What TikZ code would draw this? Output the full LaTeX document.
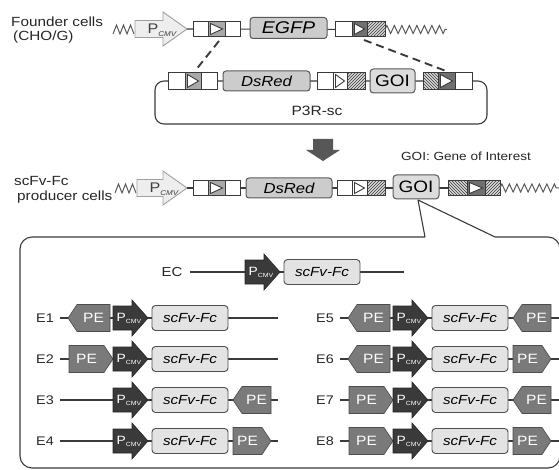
\documentclass[tikz,border=0pt]{standalone}
\usepackage{fontspec}
\setmainfont[FakeStretch=1.15]{Liberation Sans}
\usetikzlibrary{patterns,decorations.pathmorphing}
\definecolor{ln}{HTML}{3A3A3A}
\definecolor{lightfill}{HTML}{EEEEEE}
\definecolor{genefill}{HTML}{CCCCCC}
\definecolor{goifill}{HTML}{DCDCDC}
\definecolor{scfill}{HTML}{E3E3E3}
\definecolor{pefill}{HTML}{7A7A7A}
\definecolor{pdfill}{HTML}{3A3A3A}
\definecolor{cellgray}{HTML}{A9A9A9}
\definecolor{celldark}{HTML}{707070}
\definecolor{bigarrow}{HTML}{575757}
\newcommand\hh{7.5}
\newcommand\cellplain[3]{\draw[cellbox,fill=white] (#1,#3-\hh) rectangle (#2,#3+\hh);}
\newcommand\celltri[4]{\draw[cellbox,fill=#4] (#1,#3-\hh) rectangle (#2,#3+\hh);
  \draw[cellbox,fill=white] (#1+2.5,#3-\hh+2) -- (#2-2.5,#3) -- (#1+2.5,#3+\hh-2) -- cycle;}
\newcommand\cellhatch[4]{\fill[gray!30] (#1,#3-\hh) rectangle (#2,#3+\hh);
  \fill[pattern=#4,pattern color=ln] (#1,#3-\hh) rectangle (#2,#3+\hh);
  \draw[cellbox] (#1,#3-\hh) rectangle (#2,#3+\hh);}
\newcommand\plight[5]{% name, x0, xhead, xtip, y
  \draw[plshape] (#2,#5-8.5) -- (#3,#5-8.5) -- (#3,#5-17) -- (#4,#5) -- (#3,#5+17) -- (#3,#5+8.5) -- (#2,#5+8.5) -- cycle;
  \coordinate (#1-e) at (#4,#5);
  \node[pltext] (#1) at (#2+27,#5+1) {P\raisebox{-2.5pt}{\fontsize{7}{7}\selectfont\itshape CMV}};}
\newcommand\pdark[3]{% name, x0, y
  \draw[pdshape] (#2,#3-12) -- (#2+19,#3-12) -- (#2+19,#3-18) -- (#2+35,#3) -- (#2+19,#3+18) -- (#2+19,#3+12) -- (#2,#3+12) -- cycle;
  \node[pdtext] (#1) at (#2+16,#3+0.5) {P\raisebox{-1.5pt}{\fontsize{6}{7}\selectfont CMV}};}
\newcommand\peL[4]{\draw[peshape] (#2,#4) -- (#2+9,#4-13.5) -- (#3,#4-13.5) -- (#3,#4+13.5) -- (#2+9,#4+13.5) -- cycle;
  \node[petext] (#1) at ({(#2+9+#3)/2},#4) {PE};}
\newcommand\peR[4]{\draw[peshape] (#2,#4-13.5) -- (#3-9,#4-13.5) -- (#3,#4) -- (#3-9,#4+13.5) -- (#2,#4+13.5) -- cycle;
  \node[petext] (#1) at ({(#2+#3-9)/2},#4) {PE};}
\newcommand\scfv[3]{\node[scbox] (#1) at (#2,#3) {scFv-Fc};}
\begin{document}
\begin{tikzpicture}[x=1pt,y=-1pt,
  font=\fontsize{12}{14}\selectfont,
  conn/.style={draw=ln,line width=1.1pt},
  cellbox/.style={draw=ln,line width=0.9pt},
  squig/.style={draw=gray!70!black,line width=1pt},
  plshape/.style={draw=gray!75,fill=lightfill,line width=0.9pt},
  pltext/.style={text=black!75,inner sep=0pt,font=\fontsize{14}{14}\selectfont},
  pdshape/.style={draw=black!85,fill=pdfill,line width=0.6pt},
  pdtext/.style={text=white,inner sep=0pt},
  peshape/.style={draw=gray!60!black,fill=pefill,line width=0.6pt},
  petext/.style={text=white,inner sep=0pt,font=\fontsize{13.5}{14}\selectfont},
  genebox/.style={draw=ln!85,line width=1pt,rounded corners=3pt,fill=genefill,inner sep=0pt,font=\fontsize{15}{16}\selectfont\itshape},
  goibox/.style={draw=ln!85,line width=1pt,rounded corners=3.5pt,fill=goifill,inner sep=0pt,minimum width=46,minimum height=24,font=\fontsize{16.5}{17}\selectfont},
  scbox/.style={draw=ln!90,line width=0.9pt,rounded corners=3.5pt,fill=scfill,inner sep=0pt,minimum width=76,minimum height=25,font=\fontsize{13.2}{14}\selectfont\itshape},
  elabel/.style={inner sep=0pt,text=black!85,font=\fontsize{12.5}{14}\selectfont},
  dashline/.style={draw=ln,line width=1.9pt,dash pattern=on 8pt off 5pt},
  celllabel/.style={anchor=west,align=left,inner sep=0pt,text=black!85,font=\fontsize{13.3}{14.5}\selectfont},
]
\useasboundingbox (0,0) rectangle (559,470);
\clip (0,0) rectangle (559,470);

% ---------- labels ----------
\node[celllabel] (founder) at (11,30) {Founder cells\\\hspace{2pt}(CHO/G)};
\node[celllabel] (producer) at (14,190) {scFv-Fc\\\hspace{3pt}producer cells};
\node[inner sep=0pt,text=black!85,font=\fontsize{11.8}{14}\selectfont] (goilabel) at (466,156) {GOI: Gene of Interest};

% ---------- row 1 : founder ----------
\coordinate (sq1a) at (385,29.5);
\coordinate (sq1b) at (447,29.5);
\draw[squig] (113,34) -- (116.5,25) -- (120,34) -- (123.5,25) -- (127,34) -- (130.5,25) -- (134,34);
\plight{p1}{135}{163}{187}{29}
\draw[conn] (p1-e) -- (sq1a);
\cellplain{193}{208}{29}
\celltri{208}{225}{29}{cellgray}
\cellplain{225}{240}{29}
\node[genebox,minimum width=77,minimum height=21,font=\fontsize{17}{17}\selectfont\itshape] (egfp) at (288.5,28) {EGFP};
\cellplain{335}{352}{29}
\celltri{352}{367}{29}{celldark}
\cellhatch{367}{385}{29}{north east lines}
\draw[squig,decorate,decoration={zigzag,segment length=7.5pt,amplitude=4pt}] (sq1a) -- (sq1b);

% ---------- row 2 : P3R-sc ----------
\renewcommand\hh{8.5}
\draw[conn,rounded corners=9pt] (155,81) rectangle (487,124);
\cellplain{168}{185}{81}
\celltri{185}{201}{81}{cellgray}
\cellplain{201}{217}{81}
\node[genebox,minimum width=87,minimum height=20,font=\fontsize{14.5}{15}\selectfont\itshape] (dsred1) at (266.5,81) {DsRed};
\cellplain{317}{333}{81}
\celltri{333}{347}{81}{white}
\cellhatch{347}{365}{81}{north east lines}
\node[goibox,minimum width=45] (goi1) at (392.5,81) {GOI};
\cellhatch{423}{438}{81}{north west lines}
\celltri{438}{455}{81}{celldark}
\cellplain{455}{472}{81}
\node[inner sep=0pt,text=black!85,font=\fontsize{13.5}{15}\selectfont] (p3r) at (317,111) {P3R-sc};

% dashed recombination lines
\coordinate (d1a) at (219,41);
\coordinate (d1b) at (195,71);
\coordinate (d2a) at (364,40);
\coordinate (d2b) at (446,71);
\draw[dashline] (d1a) -- (d1b);
\draw[dashline] (d2a) -- (d2b);

% big arrow
\fill[bigarrow] (313,139) -- (333,139) -- (333,150) -- (340,150) -- (323,161) -- (306,150) -- (313,150) -- cycle;

% ---------- row 3 : producer ----------
\renewcommand\hh{7.5}
\coordinate (sq3a) at (500,188);
\coordinate (sq3b) at (559,188);
\draw[squig] (115,193) -- (118.5,184) -- (122,193) -- (125.5,184) -- (129,193) -- (132.5,184) -- (136,193);
\plight{p3}{137}{163}{187}{188}
\draw[conn] (p3-e) -- (sq3a);
\cellplain{193}{208}{188}
\celltri{208}{225}{188}{cellgray}
\cellplain{225}{240}{188}
\node[genebox,minimum width=86,minimum height=20,font=\fontsize{14.5}{15}\selectfont\itshape] (dsred2) at (289,188) {DsRed};
\cellplain{337}{352}{188}
\celltri{352}{367}{188}{white}
\cellhatch{367}{385}{188}{north east lines}
\node[goibox] (goi2) at (416,187) {GOI};
\cellhatch{448}{467}{188}{north west lines}
\celltri{467}{485}{188}{celldark}
\cellhatch{485}{500}{188}{north east lines}
\draw[squig,decorate,decoration={zigzag,segment length=7.5pt,amplitude=4pt}] (sq3a) -- (sq3b);

% ---------- callout box ----------
\coordinate (co) at (418,200);
\coordinate (cl) at (425,237);
\coordinate (cr) at (495,237);
\draw[draw=ln,line width=1.1pt,line join=round] (cr) -- (co) -- (cl);
\draw[draw=ln,line width=1.1pt,rounded corners=12pt] (cl) -- (20,237) -- (20,468) -- (560,468) -- (560,237) -- (cr);

% ---------- EC ----------
\node[elabel,font=\fontsize{13}{14}\selectfont] (ec) at (172,272) {EC};
\coordinate (ecend) at (404,272);
\draw[conn] ([xshift=7]ec.east) -- (ecend);
\pdark{ecp}{245}{272}
\scfv{ecs}{322}{272}

% ---------- left column ----------
\node[elabel] (l1) at (45,318) {E1};
\coordinate (e1end) at (278,318);
\draw[conn] ([xshift=6]l1.east) -- (e1end);
\peL{e1a}{68}{110}{318}
\pdark{e1p}{113}{318}
\scfv{e1s}{190}{318}

\node[elabel] (l2) at (45,359) {E2};
\coordinate (e2end) at (278,359);
\draw[conn] ([xshift=6]l2.east) -- (e2end);
\peR{e2a}{69}{113}{359}
\pdark{e2p}{113}{359}
\scfv{e2s}{190}{359}

\node[elabel] (l3) at (45,400) {E3};
\coordinate (e3end) at (278,400);
\draw[conn] ([xshift=6]l3.east) -- (e3end);
\pdark{e3p}{113}{400}
\scfv{e3s}{190}{400}
\peL{e3b}{233}{271}{400}

\node[elabel] (l4) at (45,441) {E4};
\coordinate (e4end) at (278,441);
\draw[conn] ([xshift=6]l4.east) -- (e4end);
\pdark{e4p}{113}{441}
\scfv{e4s}{190}{441}
\peR{e4b}{233}{271}{441}

% ---------- right column ----------
\node[elabel] (l5) at (325,318) {E5};
\coordinate (e5end) at (562,318);
\draw[conn] ([xshift=6]l5.east) -- (e5end);
\peL{e5a}{348}{390}{318}
\pdark{e5p}{393}{318}
\scfv{e5s}{470}{318}
\peL{e5b}{513}{551}{318}

\node[elabel] (l6) at (325,359) {E6};
\coordinate (e6end) at (562,359);
\draw[conn] ([xshift=6]l6.east) -- (e6end);
\peL{e6a}{348}{390}{359}
\pdark{e6p}{393}{359}
\scfv{e6s}{470}{359}
\peR{e6b}{513}{551}{359}

\node[elabel] (l7) at (325,400) {E7};
\coordinate (e7end) at (562,400);
\draw[conn] ([xshift=6]l7.east) -- (e7end);
\peR{e7a}{349}{393}{400}
\pdark{e7p}{393}{400}
\scfv{e7s}{470}{400}
\peL{e7b}{513}{551}{400}

\node[elabel] (l8) at (325,441) {E8};
\coordinate (e8end) at (562,441);
\draw[conn] ([xshift=6]l8.east) -- (e8end);
\peR{e8a}{349}{393}{441}
\pdark{e8p}{393}{441}
\scfv{e8s}{470}{441}
\peR{e8b}{513}{551}{441}
\end{tikzpicture}
\end{document}
